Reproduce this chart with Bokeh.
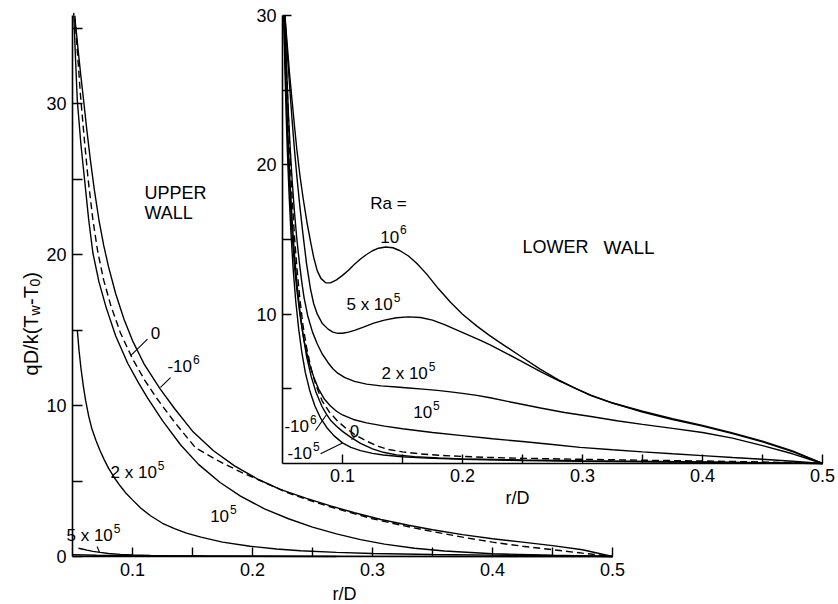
from bokeh.plotting import figure
from bokeh.models import Range1d, LinearAxis, FixedTicker, Label
from bokeh.embed import file_html
from bokeh.resources import INLINE

# ---------------- DATA ----------------
# Upper wall (main panel): qD/k(Tw-T0) vs r/D for several Ra
up_neg1e6_x = [0.052, 0.0535, 0.055, 0.057, 0.059, 0.062, 0.065, 0.068, 0.072, 0.076, 0.08, 0.086, 0.093, 0.1, 0.11, 0.123, 0.135, 0.15, 0.1675, 0.185, 0.205, 0.223, 0.245, 0.265, 0.285, 0.307, 0.33, 0.35, 0.375, 0.4, 0.425, 0.45, 0.475, 0.5]
up_neg1e6_y = [35.6, 34.5, 33.3, 31.8, 30.4, 28.2, 26.2, 24.4, 22.3, 20.6, 19.2, 17.4, 15.7, 14.3, 12.7, 11.1, 9.8, 8.3, 7.0, 6.0, 5.1, 4.45, 3.85, 3.35, 2.9, 2.45, 2.07, 1.77, 1.45, 1.18, 0.95, 0.72, 0.45, 0.0]

up_zero_x = [0.052, 0.054, 0.0567, 0.06, 0.063, 0.067, 0.071, 0.076, 0.082, 0.09, 0.1, 0.11, 0.12, 0.135, 0.1525, 0.17, 0.19, 0.21, 0.23, 0.25, 0.275, 0.3, 0.325, 0.35, 0.375, 0.4, 0.425, 0.45, 0.475, 0.5]
up_zero_y = [35.8, 33.5, 30.5, 27.5, 25.0, 22.3, 20.2, 18.3, 16.6, 14.8, 13.1, 11.7, 10.5, 8.9, 7.2, 6.4, 5.6, 4.9, 4.2, 3.65, 3.05, 2.5, 2.05, 1.65, 1.28, 0.95, 0.68, 0.45, 0.22, 0.0]

up_1e5_x = [0.051, 0.0525, 0.054, 0.057, 0.06, 0.0635, 0.067, 0.072, 0.078, 0.086, 0.096, 0.105, 0.1125, 0.125, 0.14, 0.155, 0.173, 0.19, 0.21, 0.23, 0.25, 0.27, 0.29, 0.31, 0.335, 0.36, 0.4, 0.45, 0.5]
up_1e5_y = [36.0, 33.0, 30.2, 27.3, 25.0, 22.3, 20.1, 18.2, 16.5, 14.6, 12.8, 11.5, 10.5, 9.0, 7.4, 6.1, 4.9, 4.0, 3.15, 2.5, 1.95, 1.5, 1.12, 0.82, 0.55, 0.36, 0.18, 0.08, 0.0]

up_2e5_x = [0.054, 0.0555, 0.057, 0.059, 0.061, 0.0635, 0.066, 0.0695, 0.073, 0.0765, 0.08, 0.085, 0.09, 0.095, 0.1, 0.107, 0.115, 0.125, 0.135, 0.145, 0.157, 0.175, 0.198, 0.22, 0.24, 0.27, 0.3, 0.35, 0.4, 0.45, 0.5]
up_2e5_y = [15.0, 13.6, 12.5, 11.3, 10.3, 9.3, 8.5, 7.7, 7.0, 6.4, 5.85, 5.2, 4.65, 4.15, 3.75, 3.2, 2.7, 2.2, 1.85, 1.55, 1.28, 0.95, 0.68, 0.5, 0.38, 0.27, 0.2, 0.13, 0.09, 0.05, 0.0]

up_5e5_x = [0.055, 0.058, 0.062, 0.067, 0.073, 0.08, 0.09, 0.1, 0.115, 0.13, 0.16, 0.2, 0.3, 0.5]
up_5e5_y = [0.55, 0.5, 0.42, 0.34, 0.27, 0.2, 0.14, 0.1, 0.07, 0.05, 0.035, 0.025, 0.01, 0.0]

up_1e6_x = [0.05, 0.07, 0.1, 0.15, 0.2, 0.27]
up_1e6_y = [0.12, 0.08, 0.05, 0.03, 0.02, 0.0]

# Lower wall (inset)
lo_1e6_x = [0.052, 0.054, 0.056, 0.058, 0.06, 0.062, 0.0645, 0.0675, 0.0705, 0.0733, 0.076, 0.079, 0.082, 0.086, 0.09, 0.095, 0.1, 0.105, 0.11, 0.115, 0.12, 0.125, 0.13, 0.136, 0.142, 0.148, 0.155, 0.162, 0.17, 0.18, 0.19, 0.2, 0.212, 0.223, 0.235, 0.25, 0.265, 0.28, 0.295, 0.307, 0.325, 0.35, 0.375, 0.4, 0.425, 0.45, 0.475, 0.5]
lo_1e6_y = [30.0, 28.0, 26.0, 24.3, 22.6, 21.0, 19.3, 17.6, 16.1, 14.9, 13.8, 12.9, 12.4, 12.1, 12.1, 12.3, 12.6, 12.95, 13.35, 13.7, 14.0, 14.25, 14.42, 14.5, 14.45, 14.25, 13.9, 13.4, 12.7, 11.7, 10.8, 10.0, 9.2, 8.55, 7.9, 7.1, 6.3, 5.6, 5.0, 4.55, 4.05, 3.5, 3.0, 2.55, 2.05, 1.5, 0.85, 0.0]

lo_5e5_x = [0.052, 0.054, 0.056, 0.058, 0.06, 0.062, 0.0645, 0.067, 0.07, 0.0733, 0.076, 0.079, 0.083, 0.088, 0.092, 0.096, 0.1, 0.105, 0.11, 0.118, 0.126, 0.135, 0.145, 0.155, 0.165, 0.175, 0.185, 0.195, 0.205, 0.215, 0.223, 0.235, 0.25, 0.265, 0.28, 0.295, 0.307, 0.325, 0.35, 0.375, 0.4, 0.425, 0.45, 0.475, 0.5]
lo_5e5_y = [30.0, 27.5, 25.2, 23.0, 21.0, 19.2, 17.2, 15.4, 13.4, 11.7, 10.7, 10.0, 9.4, 9.0, 8.8, 8.72, 8.72, 8.8, 8.92, 9.15, 9.4, 9.6, 9.76, 9.82, 9.78, 9.6, 9.3, 8.95, 8.6, 8.25, 7.95, 7.45, 6.8, 6.15, 5.55, 5.0, 4.58, 4.05, 3.45, 2.95, 2.5, 2.0, 1.45, 0.8, 0.0]

lo_2e5_x = [0.052, 0.053, 0.054, 0.055, 0.0565, 0.058, 0.06, 0.062, 0.064, 0.066, 0.068, 0.071, 0.075, 0.079, 0.083, 0.088, 0.092, 0.096, 0.102, 0.11, 0.12, 0.132, 0.145, 0.155, 0.167, 0.179, 0.19, 0.2, 0.212, 0.223, 0.24, 0.265, 0.285, 0.307, 0.33, 0.35, 0.375, 0.4, 0.425, 0.45, 0.475, 0.5]
lo_2e5_y = [30.0, 27.5, 25.3, 23.3, 21.0, 19.0, 16.8, 15.0, 13.5, 12.2, 11.1, 9.9, 8.8, 8.0, 7.35, 6.75, 6.35, 6.05, 5.75, 5.5, 5.32, 5.2, 5.12, 5.06, 4.98, 4.9, 4.8, 4.7, 4.56, 4.4, 4.12, 3.72, 3.42, 3.15, 2.85, 2.62, 2.35, 2.08, 1.7, 1.2, 0.65, 0.0]

lo_1e5_x = [0.052, 0.0525, 0.053, 0.054, 0.055, 0.0565, 0.058, 0.06, 0.062, 0.065, 0.068, 0.072, 0.076, 0.08, 0.085, 0.09, 0.095, 0.1, 0.109, 0.12, 0.135, 0.15, 0.175, 0.2, 0.225, 0.25, 0.275, 0.298, 0.325, 0.35, 0.375, 0.4, 0.425, 0.45, 0.475, 0.5]
lo_1e5_y = [30.0, 27.5, 25.3, 22.5, 20.3, 17.6, 15.4, 13.2, 11.6, 9.7, 8.2, 6.8, 5.8, 5.0, 4.3, 3.85, 3.5, 3.25, 2.95, 2.72, 2.5, 2.33, 2.08, 1.87, 1.66, 1.47, 1.27, 1.08, 0.92, 0.78, 0.65, 0.53, 0.4, 0.28, 0.15, 0.0]

lo_zero_x = [0.052, 0.053, 0.0545, 0.056, 0.058, 0.06, 0.062, 0.0645, 0.067, 0.07, 0.074, 0.078, 0.083, 0.089, 0.0958, 0.103, 0.11, 0.12, 0.13, 0.1375, 0.15, 0.165, 0.18, 0.2, 0.225, 0.25, 0.3, 0.35, 0.4, 0.45, 0.5]
lo_zero_y = [30.0, 27.0, 24.0, 21.0, 17.8, 15.2, 13.1, 11.0, 9.3, 7.8, 6.3, 5.2, 4.2, 3.45, 2.85, 2.35, 1.95, 1.5, 1.15, 0.95, 0.78, 0.64, 0.55, 0.47, 0.4, 0.35, 0.28, 0.22, 0.17, 0.1, 0.0]

lo_neg1e6_x = [0.051, 0.052, 0.053, 0.0545, 0.056, 0.058, 0.06, 0.062, 0.0645, 0.067, 0.07, 0.074, 0.078, 0.083, 0.087, 0.09, 0.095, 0.1, 0.107, 0.115, 0.125, 0.134, 0.145, 0.16, 0.18, 0.2, 0.25, 0.3, 0.4, 0.5]
lo_neg1e6_y = [30.0, 27.5, 25.0, 22.0, 19.3, 16.3, 14.0, 12.1, 10.2, 8.7, 7.2, 5.8, 4.75, 3.8, 3.25, 2.9, 2.5, 2.15, 1.75, 1.35, 0.98, 0.75, 0.58, 0.46, 0.37, 0.31, 0.23, 0.18, 0.1, 0.0]

lo_neg1e5_x = [0.051, 0.052, 0.053, 0.054, 0.0555, 0.057, 0.059, 0.061, 0.0635, 0.066, 0.069, 0.073, 0.077, 0.082, 0.087, 0.093, 0.1, 0.107, 0.115, 0.125, 0.134, 0.15, 0.17, 0.2, 0.25, 0.3, 0.4, 0.5]
lo_neg1e5_y = [30.0, 26.5, 23.5, 21.0, 18.0, 15.5, 12.9, 10.9, 9.0, 7.5, 6.1, 4.8, 3.85, 3.0, 2.4, 1.85, 1.38, 1.08, 0.86, 0.68, 0.57, 0.45, 0.36, 0.28, 0.2, 0.14, 0.08, 0.0]

# Tick values
main_x_ticks = [0.1, 0.2, 0.3, 0.4, 0.5]
main_x_minor = [0.15, 0.25, 0.35, 0.45]
main_y_ticks = [0, 10, 20, 30]
main_y_minor = [5, 15, 25, 35]
inset_x_ticks = [0.1, 0.2, 0.3, 0.4, 0.5]
inset_x_minor = [0.15, 0.25, 0.35, 0.45]
inset_y_ticks = [10, 20, 30]
inset_y_minor = [5, 15, 25]

# Curve labels: (base text, superscript, x, y) -- centre of label
main_labels = [("0", "", 0.1192, 14.8), ("-10", "6", 0.1425, 12.6), ("2 x 10", "5", 0.1042, 5.56),
               ("10", "5", 0.1758, 2.65), ("5 x 10", "5", 0.0675, 1.39)]
main_leaders = [((0.1125, 0.0985), (14.4, 13.3)), ((0.1317, 0.1233), (11.85, 11.2)),
                ((0.0705, 0.0725), (0.66, 0.28))]
inset_labels = [("Ra =", "", 0.1383, 17.41), ("10", "6", 0.1425, 15.2), ("5 x 10", "5", 0.1258, 10.65),
                ("2 x 10", "5", 0.155, 6.03), ("10", "5", 0.17, 3.42), ("-10", "6", 0.065, 2.48),
                ("-10", "5", 0.0675, 0.67), ("0", "", 0.11, 2.21)]
inset_leaders = [((0.0775, 0.0865), (2.21, 3.25)), ((0.0817, 0.1), (0.65, 1.38)),
                 ((0.1075, 0.1125), (1.6, 1.95))]

FONT = "Liberation Sans"
CHAR_W = {"0": .556, "1": .556, "2": .556, "5": .556, "6": .556, " ": .278, "x": .5, "-": .333,
          "R": .722, "a": .556, "=": .584}
PX_PER_X = 1200.0

p = figure(width=838, height=604, x_range=Range1d(-0.01, 0.688333), y_range=Range1d(-3.1788, 36.8212),
           output_backend="svg", toolbar_location=None, min_border=0,
           x_axis_type=None, y_axis_type=None)
p.outline_line_color = None
p.background_fill_color = "white"
p.border_fill_color = "white"
p.extra_x_ranges = {"ix": Range1d(-0.185, 0.513333)}
p.extra_y_ranges = {"iy": Range1d(-9.444, 31.011)}


def style_axis(ax, tick_len):
    ax.axis_line_width = 1.6
    ax.axis_line_color = "black"
    ax.major_tick_in = tick_len
    ax.major_tick_out = 0
    ax.minor_tick_in = tick_len
    ax.minor_tick_out = 0
    ax.major_tick_line_width = 1.4
    ax.minor_tick_line_width = 1.4
    ax.major_tick_line_color = "black"
    ax.minor_tick_line_color = "black"
    ax.major_label_text_font = FONT
    ax.major_label_text_font_size = "18px"
    ax.major_label_text_color = "black"
    ax.major_label_standoff = 6


xa = LinearAxis(fixed_location=0, bounds=(0.05, 0.5),
                ticker=FixedTicker(ticks=main_x_ticks, minor_ticks=main_x_minor))
style_axis(xa, 9)
p.add_layout(xa, "below")
ya = LinearAxis(fixed_location=0.05, bounds=(0, 35.83),
                ticker=FixedTicker(ticks=main_y_ticks, minor_ticks=main_y_minor))
style_axis(ya, 10)
p.add_layout(ya, "left")

ixa = LinearAxis(x_range_name="ix", y_range_name="iy", fixed_location=0, bounds=(0.05, 0.5),
                 ticker=FixedTicker(ticks=inset_x_ticks, minor_ticks=inset_x_minor))
style_axis(ixa, 9)
p.add_layout(ixa, "below")
iya = LinearAxis(x_range_name="ix", y_range_name="iy", fixed_location=0.05, bounds=(0, 30),
                 ticker=FixedTicker(ticks=inset_y_ticks, minor_ticks=inset_y_minor))
style_axis(iya, 9)
p.add_layout(iya, "left")

LW = 1.4
for xs, ys in [(up_neg1e6_x, up_neg1e6_y), (up_1e5_x, up_1e5_y), (up_2e5_x, up_2e5_y),
               (up_5e5_x, up_5e5_y), (up_1e6_x, up_1e6_y)]:
    p.line(xs, ys, line_color="black", line_width=LW)
p.line(up_zero_x, up_zero_y, line_color="black", line_width=LW, line_dash="7 4")

for xs, ys in [(lo_1e6_x, lo_1e6_y), (lo_5e5_x, lo_5e5_y), (lo_2e5_x, lo_2e5_y), (lo_1e5_x, lo_1e5_y),
               (lo_neg1e6_x, lo_neg1e6_y), (lo_neg1e5_x, lo_neg1e5_y)]:
    p.line(xs, ys, line_color="black", line_width=LW, x_range_name="ix", y_range_name="iy")
p.line(lo_zero_x, lo_zero_y, line_color="black", line_width=LW, line_dash="7 4",
       x_range_name="ix", y_range_name="iy")

for (x0, x1), (y0, y1) in main_leaders:
    p.line([x0, x1], [y0, y1], line_color="black", line_width=1.1)
for (x0, x1), (y0, y1) in inset_leaders:
    p.line([x0, x1], [y0, y1], line_color="black", line_width=1.1, x_range_name="ix", y_range_name="iy")


def lab(text, x, y, size="17px", inset=False, align="center", baseline="middle", angle=0.0,
        x_offset=0, y_offset=0):
    kw = dict(x_range_name="ix", y_range_name="iy") if inset else {}
    p.add_layout(Label(x=x, y=y, text=text, text_font=FONT, text_font_size=size, text_color="black",
                       text_align=align, text_baseline=baseline, angle=angle,
                       x_offset=x_offset, y_offset=y_offset, **kw))


BASE_PX, SUP_PX = 17, 12


def sup_label(base, sup, cx, cy, inset=False):
    if not sup:
        lab(base, cx, cy, size=f"{BASE_PX}px", inset=inset)
        return
    wb = sum(CHAR_W.get(c, .556) for c in base) * BASE_PX
    ws = sum(CHAR_W.get(c, .556) for c in sup) * SUP_PX + 1
    anchor = cx + (wb - (wb + ws) / 2.0) / PX_PER_X
    lab(base, anchor, cy, size=f"{BASE_PX}px", inset=inset, align="right")
    lab(sup, anchor, cy, size=f"{SUP_PX}px", inset=inset, align="left", x_offset=1, y_offset=7)


for b, s, x, y in main_labels:
    sup_label(b, s, x, y)
for b, s, x, y in inset_labels:
    sup_label(b, s, x, y, inset=True)

lab("UPPER", 0.11, 24.04, size="18px", align="left")
lab("WALL", 0.11, 22.72, size="18px", align="left")
lab("LOWER", 0.25, 14.47, size="18px", inset=True, align="left")
lab("WALL", 0.3175, 14.47, size="19px", inset=True, align="left")
lab("r/D", 0.2767, -2.5, size="18px")
lab("r/D", 0.2458, -2.28, size="18px", inset=True)

# rotated y-axis title qD/k(T_w - T_0)
A = 1.5707963
lab("qD/k(T", 0.01542, 11.99, size="20px", align="left", baseline="alphabetic", angle=A)
lab("w", 0.01875, 15.96, size="14px", align="left", baseline="alphabetic", angle=A)
lab("-T", 0.01542, 16.66, size="20px", align="left", baseline="alphabetic", angle=A)
lab("0", 0.01875, 17.88, size="14px", align="left", baseline="alphabetic", angle=A)
lab(")", 0.01542, 18.39, size="20px", align="left", baseline="alphabetic", angle=A)

open("out.html", "w").write(file_html(p, INLINE))
